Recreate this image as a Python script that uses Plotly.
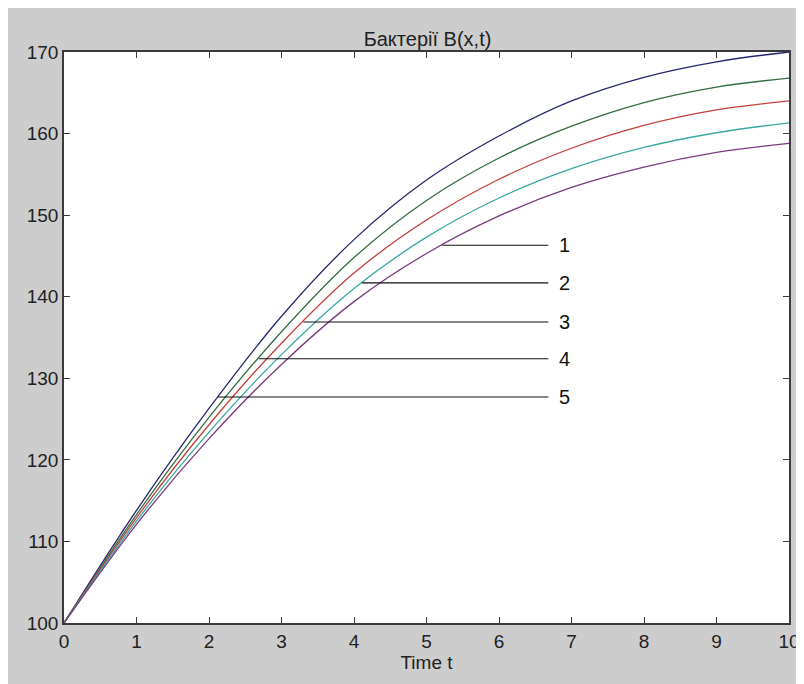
import numpy as np
import plotly.graph_objects as go

# ---- data ----
t = [0, 1, 2, 3, 4, 5, 6, 7, 8, 9, 10]
curve_navy   = [100, 113.8, 126.3, 137.6, 147.0, 154.3, 159.7, 164.0, 166.9, 168.8, 170.0]
curve_green  = [100, 113.3, 125.2, 135.7, 144.8, 151.8, 157.0, 160.9, 163.8, 165.7, 166.8]
curve_red    = [100, 112.9, 124.3, 134.3, 142.9, 149.4, 154.4, 158.2, 161.0, 162.9, 164.0]
curve_cyan   = [100, 112.5, 123.4, 132.9, 141.0, 147.3, 152.1, 155.7, 158.3, 160.1, 161.3]
curve_purple = [100, 112.1, 122.6, 131.7, 139.4, 145.3, 149.9, 153.4, 155.9, 157.7, 158.8]

# curve labels: label text, level (B value) where the pointer line touches the curve
label_text = ["1", "2", "3", "4", "5"]
label_level = [146.3, 141.7, 136.9, 132.4, 127.7]
label_curve = ["purple", "cyan", "red", "green", "navy"]
label_line_end_t = 6.68
label_text_t = 6.8

x_ticks = [0, 1, 2, 3, 4, 5, 6, 7, 8, 9, 10]
y_ticks = [100, 110, 120, 130, 140, 150, 160, 170]

title_text = "Бактерії B(x,t)"
xlabel_text = "Time t"

curves = {
    "navy": (curve_navy, "#26266e"),
    "green": (curve_green, "#356b40"),
    "red": (curve_red, "#c0413a"),
    "cyan": (curve_cyan, "#3aa8a2"),
    "purple": (curve_purple, "#7a3a80"),
}

fig = go.Figure()
for name, (vals, col) in curves.items():
    fig.add_trace(go.Scatter(x=t, y=vals, mode="lines", name=name,
                             line=dict(color=col, width=1.3, shape="spline", smoothing=1.0),
                             showlegend=False, hoverinfo="skip"))

font_ax = "Liberation Sans Narrow, Arial Narrow, Liberation Sans, Arial, sans-serif"

# pointer lines and label texts
for txt, lvl, cname in zip(label_text, label_level, label_curve):
    vals = curves[cname][0]
    t_att = float(np.interp(lvl, vals, t))
    fig.add_trace(go.Scatter(x=[t_att, label_line_end_t], y=[lvl, lvl], mode="lines",
                             line=dict(color="#111111", width=1.1),
                             showlegend=False, hoverinfo="skip"))
    fig.add_annotation(x=label_text_t, y=lvl, text=txt, showarrow=False,
                       xanchor="left", yanchor="middle",
                       font=dict(family="Liberation Sans, Arial, sans-serif", size=20, color="#111111"))

axis_common = dict(showline=True, linecolor="#3a3a3a", linewidth=1.5, mirror="ticks",
                   ticks="inside", ticklen=6, tickcolor="#3a3a3a", tickwidth=1.2,
                   showgrid=False, zeroline=False,
                   tickfont=dict(family=font_ax, size=19, color="#222222"))

fig.update_xaxes(range=[0, 10], tickvals=x_ticks, ticktext=[str(v) for v in x_ticks],
                 title=dict(text=xlabel_text, standoff=4,
                            font=dict(family=font_ax, size=19, color="#222222")),
                 **axis_common)
fig.update_yaxes(range=[100, 170], tickvals=y_ticks, ticktext=[str(v) for v in y_ticks],
                 **axis_common)

fig.update_layout(
    width=804, height=684,
    margin=dict(l=56, r=21, t=44, b=69),
    paper_bgcolor="#cdcdcd",
    plot_bgcolor="white",
    title=dict(text=title_text, x=(56 + 727/2)/804, xanchor="center",
               y=1 - 31/684, yanchor="middle", yref="container",
               font=dict(family=font_ax, size=20, color="#222222")),
)

fig.write_html("out.html")
